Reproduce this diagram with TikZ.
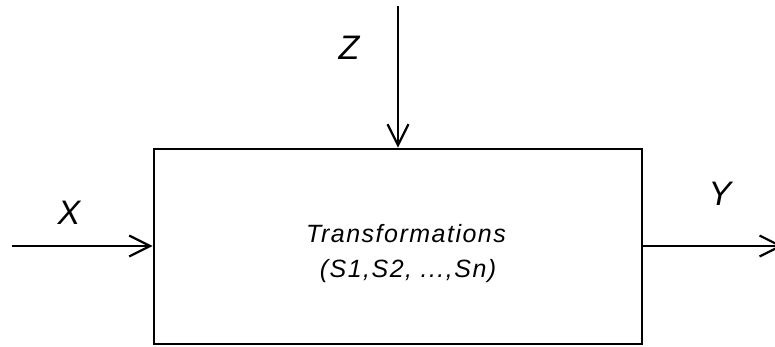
\documentclass[tikz,border=0pt]{standalone}
\usepackage{fontspec}
\setmainfont{Liberation Sans}
\newfontfamily\isofont[LetterSpace=6]{Liberation Sans}
\usetikzlibrary{arrows.meta}
\begin{document}
\begin{tikzpicture}[x=1pt,y=-1pt,
  conn/.style={line width=2.2pt,-{Straight Barb[length=21pt,width=21pt,line width=2.2pt]}},
  lbl/.style={font=\fontsize{34}{38}\selectfont\itshape,inner sep=0pt},
  inner/.style={font=\fontsize{25}{30}\selectfont\isofont\itshape,inner sep=0pt}]
\useasboundingbox (0,0) rectangle (775,346);
\node[draw,line width=2.8pt,minimum width=488pt,minimum height=195pt,inner sep=0pt] (box) at (398,246.5) {};
\node[inner] (t1) at (406,234) {Transformations};
\node[inner] (t2) at (408,271) {(S1,S2, ...,Sn)};
\coordinate (xin) at (12,246);
\coordinate (yout) at (783,246);
\coordinate (zin) at (398,6);
\draw[conn] (xin) -- (box.west |- xin);
\draw[conn] (box.east |- yout) -- (yout);
\draw[conn] (zin) -- (box.north -| zin);
\node[lbl] (X) at (69,213) {X};
\node[lbl] (Y) at (720,194) {Y};
\node[lbl] (Z) at (349,48) {Z};
\end{tikzpicture}
\end{document}
